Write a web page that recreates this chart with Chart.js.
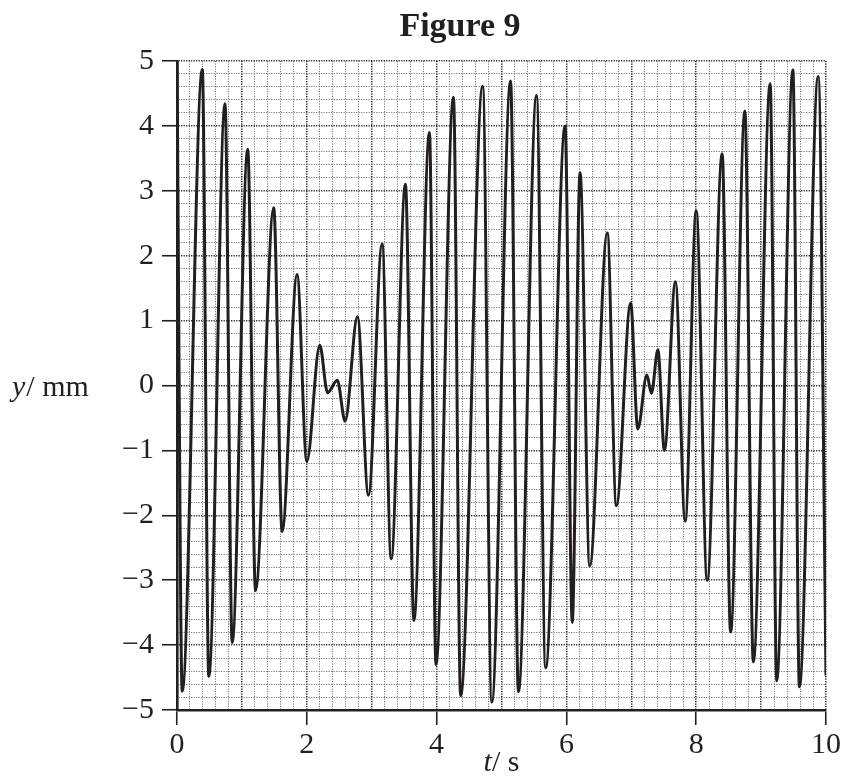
<!DOCTYPE html>
<html>
<head>
<meta charset="utf-8">
<script src="https://cdn.jsdelivr.net/npm/chart.js@4.4.0/dist/chart.umd.min.js"></script>
<style>
  html, body { margin: 0; padding: 0; background: #fff; }
  #contenedor { width: 844px; height: 778px; }
</style>
</head>
<body>
<div id="contenedor"><canvas id="grafico" width="844" height="778"></canvas></div>
<script>
// Maximos y minimos (t en s, y en mm)
const tiempos = [
    0, 0.08, 0.39, 0.49, 0.74, 0.85, 1.09, 1.21, 1.49, 1.62,
    1.85, 2.0, 2.2, 2.32, 2.47, 2.59, 2.78, 2.95, 3.16, 3.3,
    3.52, 3.65, 3.89, 3.99, 4.26, 4.37, 4.71, 4.85, 5.14, 5.26,
    5.54, 5.68, 5.98, 6.09, 6.21, 6.36, 6.63, 6.77, 6.99, 7.1,
    7.24, 7.31, 7.41, 7.51, 7.68, 7.83, 8.0, 8.17, 8.4, 8.53,
    8.75, 8.88, 9.14, 9.24, 9.49, 9.59, 9.88, 10
];
const desplazamientos = [
    5, -4.71, 4.87, -4.48, 4.34, -3.96, 3.64, -3.16, 2.74, -2.25,
    1.71, -1.17, 0.62, -0.11, 0.08, -0.55, 1.06, -1.69, 2.18, -2.67,
    3.1, -3.62, 3.9, -4.3, 4.44, -4.78, 4.61, -4.88, 4.69, -4.72,
    4.47, -4.35, 4.0, -3.65, 3.28, -2.78, 2.35, -1.85, 1.27, -0.67,
    0.16, -0.12, 0.55, -1.0, 1.6, -2.09, 2.69, -3.0, 3.57, -3.8,
    4.23, -4.26, 4.65, -4.55, 4.86, -4.64, 4.76, -4.47
];
const marcasX = [0, 2, 4, 6, 8, 10];
const marcasY = [-5, -4, -3, -2, -1, 0, 1, 2, 3, 4, 5];
const titulo = "Figure 9";

const fuente = "'Liberation Serif', 'Times New Roman', serif";
const tinta = '#231f20';

function esEntero(v) {
    return Math.abs(v - Math.round(v)) < 1e-6;
}
function enLista(lista, v) {
    return lista.some(m => Math.abs(m - v) < 1e-6);
}
function textoNumero(v) {
    const n = Math.round(v);
    return n < 0 ? '\u2212' + Math.abs(n) : String(n);
}

// Titulo y rotulos de ejes (cursiva solo en la variable)
const rotulos = {
    id: 'rotulos',
    afterDraw(chart) {
        const ctx = chart.ctx;
        ctx.save();
        ctx.fillStyle = tinta;
        ctx.textBaseline = 'alphabetic';

        ctx.font = 'bold 34px ' + fuente;
        ctx.textAlign = 'center';
        ctx.fillText(titulo, 460, 36);

        ctx.textAlign = 'left';
        // y / mm
        let x = 12;
        const yBase = chart.scales.y.getPixelForValue(0) + 10;
        ctx.font = 'italic 30px ' + fuente;
        ctx.fillText('y', x, yBase);
        x += ctx.measureText('y').width + 1;
        ctx.font = '30px ' + fuente;
        ctx.fillText('/ mm', x, yBase);

        // t / s
        ctx.font = 'italic 30px ' + fuente;
        const anchoT = ctx.measureText('t').width;
        ctx.font = '30px ' + fuente;
        const anchoS = ctx.measureText('/ s').width;
        x = chart.scales.x.getPixelForValue(5) - (anchoT + anchoS) / 2;
        ctx.font = 'italic 30px ' + fuente;
        ctx.fillText('t', x, 771);
        ctx.font = '30px ' + fuente;
        ctx.fillText('/ s', x + anchoT, 771);
        ctx.restore();
    }
};

document.addEventListener("DOMContentLoaded", function () {
    const ctx = document.getElementById("grafico").getContext("2d");

    new Chart(ctx, {
        type: 'line',
        data: {
            datasets: [{
                data: tiempos.map((t, i) => ({ x: t, y: desplazamientos[i] })),
                borderColor: tinta,
                borderWidth: 3,
                pointRadius: 0,
                fill: false,
                cubicInterpolationMode: 'monotone'
            }]
        },
        options: {
            responsive: false,
            animation: false,
            layout: { padding: { left: 0, right: 18, top: 61, bottom: 0 } },
            plugins: {
                legend: { display: false },
                tooltip: { enabled: false }
            },
            scales: {
                x: {
                    type: 'linear',
                    min: 0,
                    max: 10,
                    afterFit: s => { s.height = 68; },
                    ticks: {
                        stepSize: 0.2,
                        autoSkip: false,
                        maxRotation: 0,
                        padding: 2,
                        color: tinta,
                        font: { family: fuente, size: 30 },
                        callback: v => enLista(marcasX, v) ? textoNumero(v) : ''
                    },
                    grid: {
                        color: c => esEntero(c.tick.value) ? '#262626' : '#7a7a7a',
                        lineWidth: c => esEntero(c.tick.value) ? 1.5 : 1,
                        tickLength: 15,
                        tickWidth: 1.6,
                        tickColor: c => enLista(marcasX, c.tick.value) ? tinta : 'rgba(0,0,0,0)'
                    },
                    border: { display: true, color: tinta, width: 2.6, dash: [1.2, 1.3] }
                },
                y: {
                    min: -5,
                    max: 5,
                    afterFit: s => { s.width = 177; },
                    ticks: {
                        stepSize: 0.2,
                        autoSkip: false,
                        padding: 8,
                        color: tinta,
                        font: { family: fuente, size: 30 },
                        callback: v => enLista(marcasY, v) ? textoNumero(v) : ''
                    },
                    grid: {
                        color: c => esEntero(c.tick.value) ? '#262626' : '#7a7a7a',
                        lineWidth: c => esEntero(c.tick.value) ? 1.5 : 1,
                        tickLength: 15,
                        tickWidth: 1.6,
                        tickColor: c => enLista(marcasY, c.tick.value) ? tinta : 'rgba(0,0,0,0)'
                    },
                    border: { display: true, color: tinta, width: 2.6, dash: [1.2, 1.3] }
                }
            }
        },
        plugins: [rotulos]
    });
});
</script>
</body>
</html>
